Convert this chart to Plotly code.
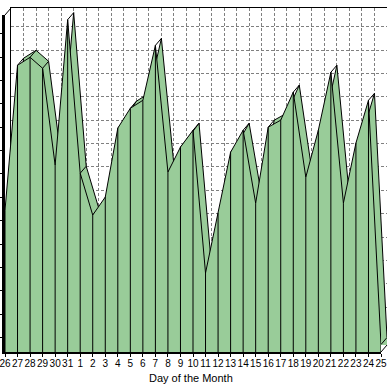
import plotly.graph_objects as go

# ---- data ----
day_labels = ["26", "27", "28", "29", "30", "31", "1", "2", "3", "4", "5", "6", "7", "8",
              "9", "10", "11", "12", "13", "14", "15", "16", "17", "18", "19", "20", "21",
              "22", "23", "24", "25"]
values = [64.5, 126.5, 129.9, 125.2, 83.8, 146.0, 80.3, 62.4, 70.1, 99.6, 108.1, 111.5,
          135.0, 80.8, 91.5, 98.7, 37.6, 63.2, 89.3, 98.7, 67.5, 100.0, 103.0, 115.0,
          78.6, 98.7, 123.5, 67.5, 93.2, 111.5, 7.0]
x_idx = list(range(len(values)))

# ---- layout constants (pixels) ----
W, H = 391, 388
F_L, F_R, F_T, F_B = 5, 381, 15, 352        # front face rectangle
DEPTH_X, DEPTH_Y = 6, 7                     # 3D depth offset
Y_MIN, Y_MAX = 3.8, 148.0
X_MAX = len(values) - 1
GREEN = "#99CC99"

def pxx(p):
    return p / W

def pxy(p):
    return 1 - p / H

ux = X_MAX / (F_R - F_L)
uy = (Y_MAX - Y_MIN) / (F_B - F_T)
DX, DY = DEPTH_X * ux, DEPTH_Y * uy

fig = go.Figure()

# back ribbon (drawn on back axes, same data)
fig.add_trace(go.Scatter(x=x_idx, y=values, xaxis="x", yaxis="y", mode="lines",
                         fill="tozeroy", fillcolor=GREEN,
                         line=dict(color="black", width=1), hoverinfo="skip",
                         showlegend=False))

# depth connectors (union axes)
cx, cy = [], []
for i, v in zip(x_idx, values):
    cx += [i, i + DX, None]
    cy += [v, v + DY, None]
fig.add_trace(go.Scatter(x=cx, y=cy, xaxis="x2", yaxis="y2", mode="lines",
                         line=dict(color="black", width=1), hoverinfo="skip",
                         showlegend=False))

# front face
fig.add_trace(go.Scatter(x=x_idx, y=values, xaxis="x3", yaxis="y3", mode="lines",
                         fill="tozeroy", fillcolor=GREEN,
                         line=dict(color="black", width=1), hoverinfo="skip",
                         showlegend=False))
vx, vy = [], []
for i, v in zip(x_idx, values):
    vx += [i, i, None]
    vy += [0, v, None]
fig.add_trace(go.Scatter(x=vx, y=vy, xaxis="x3", yaxis="y3", mode="lines",
                         line=dict(color="black", width=1), hoverinfo="skip",
                         showlegend=False))

grid = dict(showgrid=True, gridcolor="#808080", gridwidth=1, griddash="3px,2px")

fig.update_layout(
    width=W, height=H, autosize=False,
    margin=dict(l=0, r=0, t=0, b=0, pad=0),
    paper_bgcolor="white", plot_bgcolor="rgba(0,0,0,0)",
    showlegend=False,
    xaxis=dict(domain=[pxx(F_L + DEPTH_X), pxx(F_R + DEPTH_X)], range=[0, X_MAX],
               anchor="y", side="top", showline=True, linecolor="black", linewidth=1,
               tickmode="linear", tick0=0, dtick=1, showticklabels=False, ticks="",
               zeroline=False, fixedrange=True, **grid),
    yaxis=dict(domain=[pxy(F_B - DEPTH_Y), pxy(F_T - DEPTH_Y)], range=[Y_MIN, Y_MAX],
               anchor="x", showline=True, linecolor="black", linewidth=1,
               tickmode="linear", tick0=0, dtick=10, showticklabels=False, ticks="",
               zeroline=False, fixedrange=True, **grid),
    xaxis2=dict(domain=[pxx(F_L), pxx(F_R + DEPTH_X)], range=[0, X_MAX + DX],
                anchor="y2", visible=False, fixedrange=True),
    yaxis2=dict(domain=[pxy(F_B), pxy(F_T - DEPTH_Y)], range=[Y_MIN, Y_MAX + DY],
                anchor="x2", visible=False, fixedrange=True),
    xaxis3=dict(domain=[pxx(F_L), pxx(F_R)], range=[0, X_MAX], anchor="y3",
                showline=True, linecolor="black", linewidth=2,
                tickmode="array", tickvals=x_idx, ticktext=day_labels, tickangle=0,
                ticks="outside", ticklen=3, tickcolor="black", tickwidth=1,
                ticklabeloverflow="allow", ticklabelstandoff=-2,
                tickfont=dict(family="Liberation Sans, Arial", size=10, color="black"),
                showgrid=False, zeroline=False, automargin=False, fixedrange=True),
    yaxis3=dict(domain=[pxy(F_B), pxy(F_T)], range=[Y_MIN, Y_MAX], anchor="x3",
                showline=True, linecolor="black", linewidth=3,
                tickmode="linear", tick0=0, dtick=10, ticks="outside", ticklen=3,
                tickcolor="black", showticklabels=False,
                showgrid=False, zeroline=False, automargin=False, fixedrange=True),
    shapes=[
        dict(type="line", xref="paper", yref="paper",
             x0=pxx(F_L), y0=pxy(F_T), x1=pxx(F_L + DEPTH_X), y1=pxy(F_T - DEPTH_Y),
             line=dict(color="black", width=1)),
        dict(type="line", xref="paper", yref="paper",
             x0=pxx(F_R), y0=pxy(F_B), x1=pxx(F_R + DEPTH_X), y1=pxy(F_B - DEPTH_Y),
             line=dict(color="black", width=1)),
    ],
    annotations=[
        dict(text="Day of the Month", xref="paper", yref="paper",
             x=pxx(191), y=pxy(378), xanchor="center", yanchor="middle",
             showarrow=False, font=dict(family="Liberation Sans, Arial", size=11, color="black")),
    ],
)

fig.write_html("out.html", config={"displayModeBar": False, "staticPlot": True})
